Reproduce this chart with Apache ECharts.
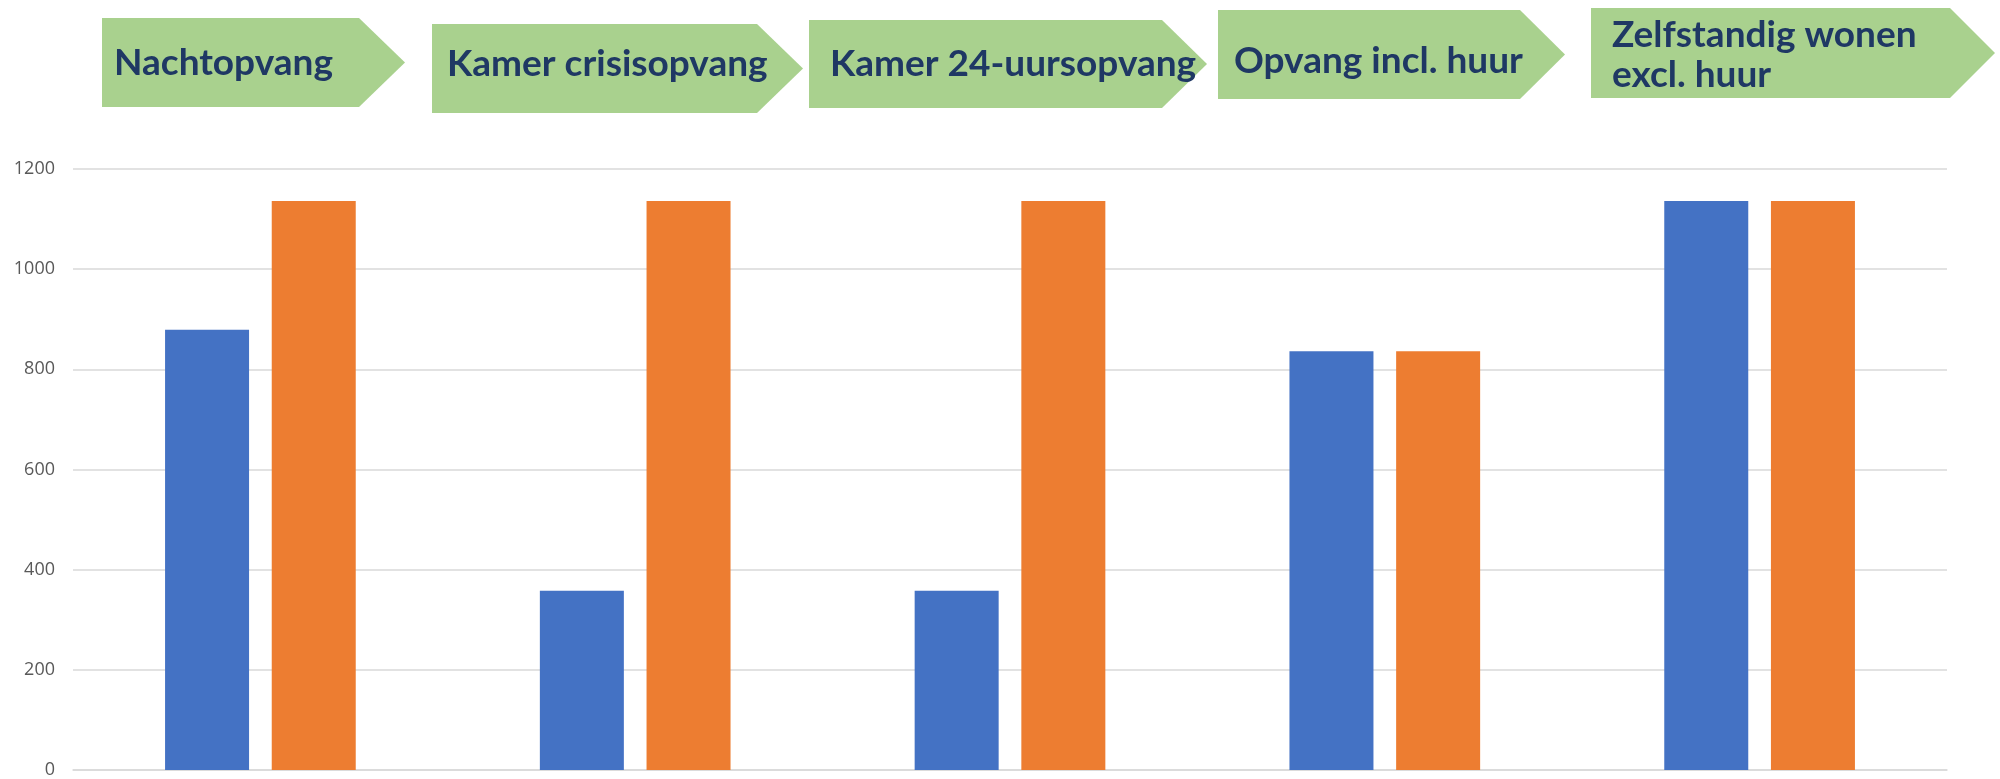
<!DOCTYPE html>
<html>
<head>
<meta charset="utf-8">
<script src="https://cdn.jsdelivr.net/npm/echarts@6/dist/echarts.min.js"></script>
<style>
html,body{margin:0;padding:0;background:#fff;}
#chart{width:2000px;height:779px;}
</style>
</head>
<body>
<div id="chart"></div>
<script>
const categories = ['Nachtopvang', 'Kamer crisisopvang', 'Kamer 24-uursopvang', 'Opvang incl. huur', 'Zelfstandig wonen\nexcl. huur'];
const seriesBlue = [879, 358, 358, 836, 1136];
const seriesOrange = [1136, 1136, 1136, 836, 1136];
const yTicks = [0, 200, 400, 600, 800, 1000, 1200];

// header chevron layout (decoration, not data)
const chevrons = [
  {x0: 102, x1: 359, x2: 405, y0: 18, y1: 107, tx: 114, ty: 63},
  {x0: 432, x1: 757, x2: 803, y0: 24, y1: 113, tx: 447, ty: 64},
  {x0: 809, x1: 1162, x2: 1207, y0: 20, y1: 108, tx: 830, ty: 64},
  {x0: 1218, x1: 1520, x2: 1565, y0: 10, y1: 99, tx: 1234, ty: 61},
  {x0: 1591, x1: 1950, x2: 1995, y0: 8, y1: 98, tx: 1612, ty: 55}
];

const graphic = [];
chevrons.forEach((c, i) => {
  const ym = (c.y0 + c.y1) / 2;
  graphic.push({
    type: 'polygon',
    shape: {points: [[c.x0, c.y0], [c.x1, c.y0], [c.x2, ym], [c.x1, c.y1], [c.x0, c.y1]]},
    style: {fill: '#a9d18e'},
    silent: true
  });
  graphic.push({
    type: 'text',
    x: c.tx, y: c.ty,
    style: {
      text: categories[i],
      fill: '#1f3864',
      font: 'bold 37px Lato',
      lineHeight: 40,
      align: 'left',
      verticalAlign: 'middle'
    },
    silent: true
  });
});

const chart = echarts.init(document.getElementById('chart'));
chart.setOption({
  animation: false,
  backgroundColor: '#ffffff',
  graphic: graphic,
  grid: {left: 73, right: 53, top: 169, bottom: 7, containLabel: false},
  xAxis: {
    type: 'category',
    data: categories,
    axisLine: {show: true, lineStyle: {color: '#d9d9d9', width: 1.5}},
    axisTick: {show: false},
    axisLabel: {show: false}
  },
  yAxis: {
    type: 'value',
    min: yTicks[0],
    max: yTicks[yTicks.length - 1],
    interval: yTicks[1] - yTicks[0],
    axisLine: {show: false},
    axisTick: {show: false},
    axisLabel: {color: '#595959', fontSize: 18, fontFamily: 'Open Sans', margin: 18, formatter: v => String(v)},
    splitLine: {lineStyle: {color: '#d9d9d9', width: 1.5}}
  },
  series: [
    {type: 'bar', data: seriesBlue, barWidth: 84, barGap: '27%', itemStyle: {color: '#4472c4'}},
    {type: 'bar', data: seriesOrange, barWidth: 84, barGap: '27%', itemStyle: {color: '#ed7d31'}}
  ]
});
</script>
</body>
</html>
